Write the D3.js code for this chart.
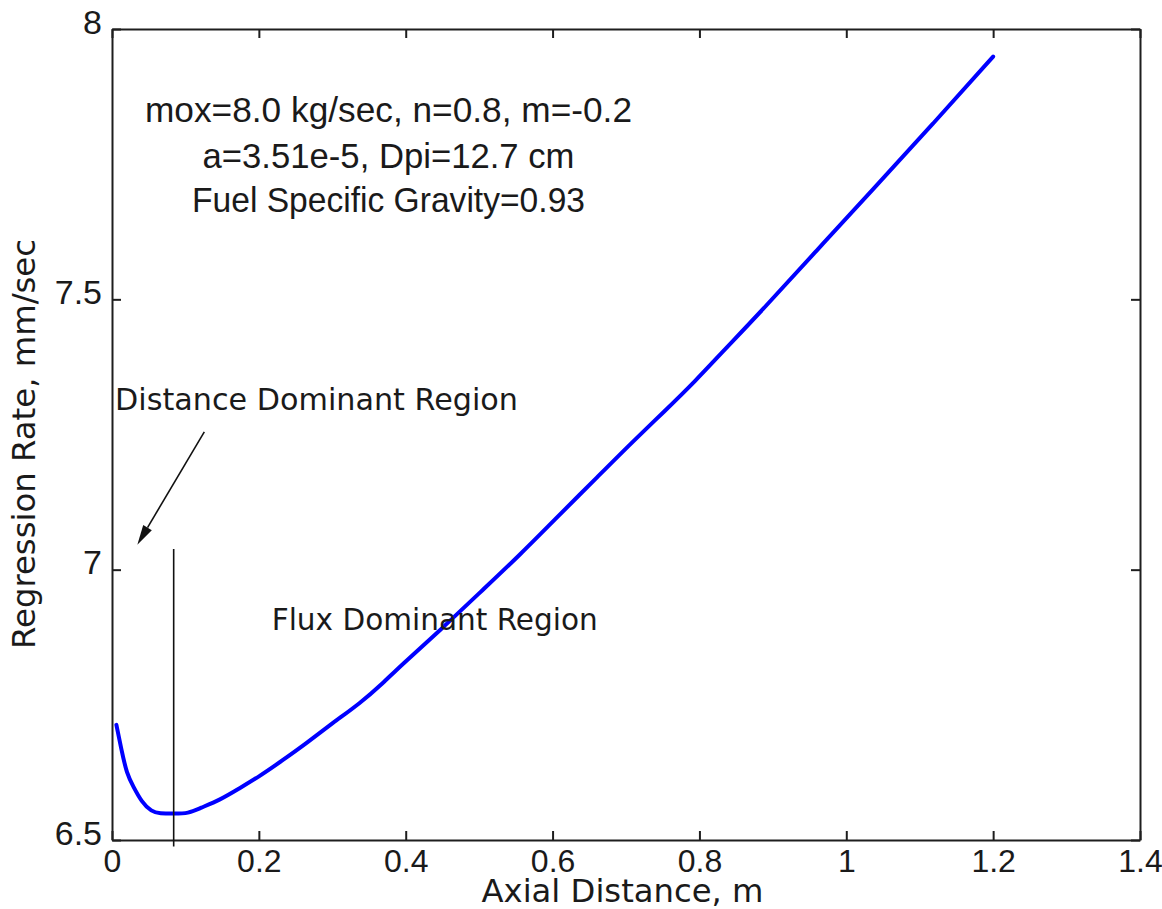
<!DOCTYPE html>
<html>
<head>
<meta charset="utf-8">
<script src="https://cdn.jsdelivr.net/npm/d3@7"></script>
<style>
  html, body { margin: 0; padding: 0; background: #fff; }
  svg { display: block; }
</style>
</head>
<body>
<svg id="chart" width="1162" height="909"></svg>
<script>
// ---- data ----
const axialDistance = [0.006, 0.013, 0.020, 0.029, 0.040, 0.054, 0.065, 0.084, 0.104, 0.120,
  0.147, 0.174, 0.200, 0.233, 0.265, 0.300, 0.338, 0.369, 0.392, 0.447, 0.506, 0.556,
  0.601, 0.660, 0.710, 0.751, 0.796, 0.828, 0.883, 0.960, 1.037, 1.119, 1.200];
const regressionRate = [6.713, 6.666, 6.623, 6.599, 6.571, 6.552, 6.549, 6.549, 6.549, 6.559,
  6.574, 6.596, 6.617, 6.648, 6.679, 6.716, 6.753, 6.790, 6.821, 6.888, 6.964, 7.028,
  7.090, 7.170, 7.238, 7.291, 7.351, 7.398, 7.476, 7.591, 7.704, 7.826, 7.949];
const xTicks = [0, 0.2, 0.4, 0.6, 0.8, 1.0, 1.2, 1.4];
const xTickLabels = ["0", "0.2", "0.4", "0.6", "0.8", "1", "1.2", "1.4"];
const yTicks = [6.5, 7.0, 7.5, 8.0];
const yTickLabels = ["6.5", "7", "7.5", "8"];
const boundaryX = 0.084;               // region boundary marker
const boundaryY = [6.488, 7.038];
const arrowFrom = [0.1257, 7.255];     // annotation arrow (data units)
const arrowTo = [0.0345, 7.046];
const infoLines = ["mox=8.0 kg/sec, n=0.8, m=-0.2", "a=3.51e-5, Dpi=12.7 cm", "Fuel Specific Gravity=0.93"];

// ---- layout ----
const svg = d3.select("#chart");
const L = 112, R = 1140, T = 29, B = 840;
const x = d3.scaleLinear().domain([0, 1.4]).range([L, R]);
const y = d3.scaleLinear().domain([6.5, 8]).range([B, T]);
const axisColor = "#1e1e1e";
const tickFont = "'Liberation Sans', Arial, sans-serif";
const labelFont = "'DejaVu Sans', Verdana, sans-serif";

svg.append("rect").attr("width", 1162).attr("height", 909).attr("fill", "#fff");

// axes with inward ticks
const gx = svg.append("g").attr("transform", `translate(0,${B})`)
  .call(d3.axisBottom(x).tickValues(xTicks).tickSize(-9).tickSizeOuter(0)
    .tickFormat((d, i) => xTickLabels[i]));

const gy = svg.append("g").attr("transform", `translate(${L},0)`)
  .call(d3.axisLeft(y).tickValues(yTicks).tickSize(-9).tickSizeOuter(0)
    .tickFormat((d, i) => yTickLabels[i]));

const gt = svg.append("g").attr("transform", `translate(0,${T})`)
  .call(d3.axisTop(x).tickValues(xTicks).tickSize(-9).tickSizeOuter(0).tickFormat(""));
const gr = svg.append("g").attr("transform", `translate(${R},0)`)
  .call(d3.axisRight(y).tickValues(yTicks).tickSize(-9).tickSizeOuter(0).tickFormat(""));

[gx, gy, gt, gr].forEach(g => {
  g.selectAll(".domain").attr("stroke", axisColor).attr("stroke-width", 2);
  g.selectAll(".tick line").attr("stroke", axisColor).attr("stroke-width", 2);
  g.selectAll("text").attr("font-family", tickFont).attr("fill", "#1a1a1a");
});
gx.selectAll("text").attr("y", 32).attr("dy", 0).attr("font-size", 32);
gy.selectAll("text").attr("x", -10).attr("dy", 4).attr("font-size", 34);

// curve
const pts = axialDistance.map((d, i) => [d, regressionRate[i]]);
svg.append("path").datum(pts)
  .attr("fill", "none").attr("stroke", "#0000ff").attr("stroke-width", 4)
  .attr("stroke-linejoin", "round").attr("stroke-linecap", "round")
  .attr("d", d3.line().x(d => x(d[0])).y(d => y(d[1])).curve(d3.curveBasis));

// boundary line
svg.append("line")
  .attr("x1", x(boundaryX)).attr("x2", x(boundaryX))
  .attr("y1", y(boundaryY[0])).attr("y2", y(boundaryY[1]))
  .attr("stroke", "#111").attr("stroke-width", 1.6);

// arrow
const ax1 = x(arrowFrom[0]), ay1 = y(arrowFrom[1]), ax2 = x(arrowTo[0]), ay2 = y(arrowTo[1]);
const ang = Math.atan2(ay2 - ay1, ax2 - ax1);
const hl = 20, hw = 5;
const bx = ax2 - hl * Math.cos(ang), by = ay2 - hl * Math.sin(ang);
svg.append("line").attr("x1", ax1).attr("y1", ay1).attr("x2", bx).attr("y2", by)
  .attr("stroke", "#111").attr("stroke-width", 1.6);
svg.append("path")
  .attr("d", `M${ax2},${ay2}L${bx - hw * Math.sin(ang)},${by + hw * Math.cos(ang)}L${bx + hw * Math.sin(ang)},${by - hw * Math.cos(ang)}Z`)
  .attr("fill", "#111");

// text helper
function txt(str, px, py, opts) {
  const t = svg.append("text").text(str)
    .attr("x", px).attr("y", py)
    .attr("font-family", opts.font).attr("font-size", opts.size)
    .attr("fill", "#1a1a1a").attr("text-anchor", opts.anchor || "start");
  if (opts.len) t.attr("textLength", opts.len).attr("lengthAdjust", "spacingAndGlyphs");
  if (opts.rotate) t.attr("transform", `rotate(-90,${px},${py})`);
  return t;
}

// info block
const infoBase = [121.5, 168.3, 211.7];
const infoLen = [487, 372, 393];
infoLines.forEach((s, i) => txt(s, 388.5, infoBase[i], { font: tickFont, size: 35, anchor: "middle", len: infoLen[i] }));

txt("Distance Dominant Region", 115, 410, { font: labelFont, size: 30, len: 403 });
txt("Flux Dominant Region", 271.7, 630, { font: labelFont, size: 30, len: 326 });

// axis titles
txt("Axial Distance, m", 622.5, 902, { font: labelFont, size: 32, anchor: "middle", len: 282 });
txt("Regression Rate, mm/sec", 35, 444, { font: labelFont, size: 32, anchor: "middle", len: 410, rotate: true });
</script>
</body>
</html>
